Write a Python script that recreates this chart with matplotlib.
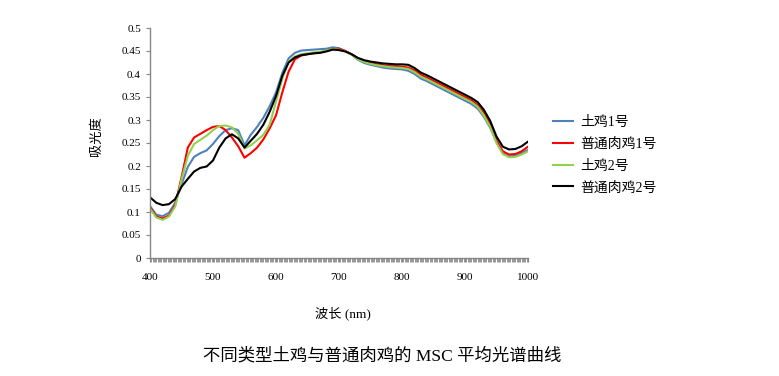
import numpy as np
import matplotlib
matplotlib.use("Agg")
import matplotlib.pyplot as plt
from matplotlib.ticker import MultipleLocator, FuncFormatter

plt.rcParams['font.family'] = ['Liberation Serif', 'Noto Sans CJK SC', 'DejaVu Sans']

# wavelength grid (nm)
wl = np.arange(400, 1001, 10)

tuji1 = [0.113, 0.094, 0.091, 0.098, 0.120, 0.160, 0.198, 0.220, 0.228, 0.234,
         0.248, 0.265, 0.278, 0.282, 0.278, 0.245, 0.268, 0.285, 0.305, 0.330,
         0.360, 0.402, 0.434, 0.446, 0.451, 0.452, 0.453, 0.454, 0.455, 0.458,
         0.456, 0.450, 0.442, 0.431, 0.424, 0.420, 0.417, 0.414, 0.412, 0.411,
         0.410, 0.407, 0.400, 0.390, 0.384, 0.377, 0.370, 0.363, 0.356, 0.349,
         0.342, 0.335, 0.325, 0.307, 0.283, 0.252, 0.228, 0.221, 0.222, 0.228,
         0.235]

putong1 = [0.110, 0.090, 0.086, 0.092, 0.115, 0.175, 0.240, 0.262, 0.270, 0.278,
           0.285, 0.287, 0.278, 0.262, 0.243, 0.218, 0.228, 0.240, 0.258, 0.282,
           0.310, 0.360, 0.405, 0.432, 0.440, 0.443, 0.445, 0.447, 0.451, 0.454,
           0.455, 0.450, 0.443, 0.434, 0.428, 0.424, 0.421, 0.419, 0.417, 0.417,
           0.416, 0.414, 0.408, 0.398, 0.392, 0.385, 0.378, 0.371, 0.364, 0.357,
           0.350, 0.343, 0.333, 0.315, 0.290, 0.255, 0.232, 0.225, 0.226, 0.232,
           0.242]

tuji2 = [0.107, 0.088, 0.083, 0.090, 0.112, 0.170, 0.222, 0.248, 0.257, 0.266,
         0.278, 0.287, 0.288, 0.284, 0.270, 0.238, 0.245, 0.256, 0.268, 0.290,
         0.340, 0.390, 0.427, 0.438, 0.443, 0.445, 0.447, 0.448, 0.451, 0.454,
         0.453, 0.449, 0.442, 0.432, 0.426, 0.422, 0.419, 0.417, 0.415, 0.414,
         0.413, 0.411, 0.404, 0.394, 0.388, 0.381, 0.374, 0.367, 0.360, 0.353,
         0.346, 0.339, 0.329, 0.310, 0.285, 0.250, 0.226, 0.219, 0.220, 0.225,
         0.232]

putong2 = [0.132, 0.120, 0.115, 0.117, 0.128, 0.155, 0.172, 0.188, 0.196, 0.199,
           0.212, 0.240, 0.260, 0.269, 0.260, 0.240, 0.255, 0.270, 0.290, 0.318,
           0.352, 0.396, 0.425, 0.436, 0.441, 0.443, 0.445, 0.446, 0.449, 0.453,
           0.452, 0.449, 0.443, 0.435, 0.430, 0.427, 0.425, 0.423, 0.422, 0.421,
           0.421, 0.420, 0.413, 0.403, 0.397, 0.390, 0.383, 0.376, 0.369, 0.362,
           0.355, 0.348, 0.339, 0.322, 0.298, 0.264, 0.242, 0.236, 0.237, 0.243,
           0.253]

labels = ["土鸡1号", "普通肉鸡1号", "土鸡2号", "普通肉鸡2号"]
colors = ["#4f81bd", "#ff0000", "#92d050", "#000000"]

fig = plt.figure(figsize=(7.79, 3.76), dpi=100)
ax = fig.add_axes([150/779, 1 - 258/376, 378/779, 230/376])

for ys, lab, c in zip([tuji1, putong1, tuji2, putong2], labels, colors):
    ax.plot(wl, ys, color=c, lw=1.5, label=lab)

ax.set_xlim(400, 1000)
ax.set_ylim(0, 0.5)
ax.xaxis.set_major_locator(MultipleLocator(100))
ax.xaxis.set_minor_locator(MultipleLocator(2))
ax.set_yticks(np.arange(0, 0.501, 0.05))
ax.yaxis.set_major_formatter(FuncFormatter(lambda v, p: f"{round(v, 2):g}"))

for s in ["top", "right"]:
    ax.spines[s].set_visible(False)
for s in ["left", "bottom"]:
    ax.spines[s].set_color("#868686")
    ax.spines[s].set_linewidth(1)

ax.tick_params(axis="both", which="both", direction="out", color="#868686",
               labelsize=8, length=3, width=0.8)
ax.tick_params(axis="x", which="minor", length=3, width=0.6)
ax.tick_params(axis="x", pad=8)

fig.text(97/779, 1 - 136/376, "吸光度", rotation=90, ha="center", va="center", fontsize=9.5)
fig.text(343/779, 1 - 313/376, "波长 (nm)", ha="center", va="center", fontsize=9.5)
fig.text(382/779, 1 - 356/376, "不同类型土鸡与普通肉鸡的 MSC 平均光谱曲线",
         ha="center", va="center", fontsize=12.5)

ax.legend(loc="upper left", bbox_to_anchor=(553/779, 1 - 116/376),
          bbox_transform=fig.transFigure, frameon=False, fontsize=10,
          handlelength=1.45, handletextpad=0.5, labelspacing=0.62,
          borderpad=0, borderaxespad=0)

fig.savefig("out.png", dpi=100)
